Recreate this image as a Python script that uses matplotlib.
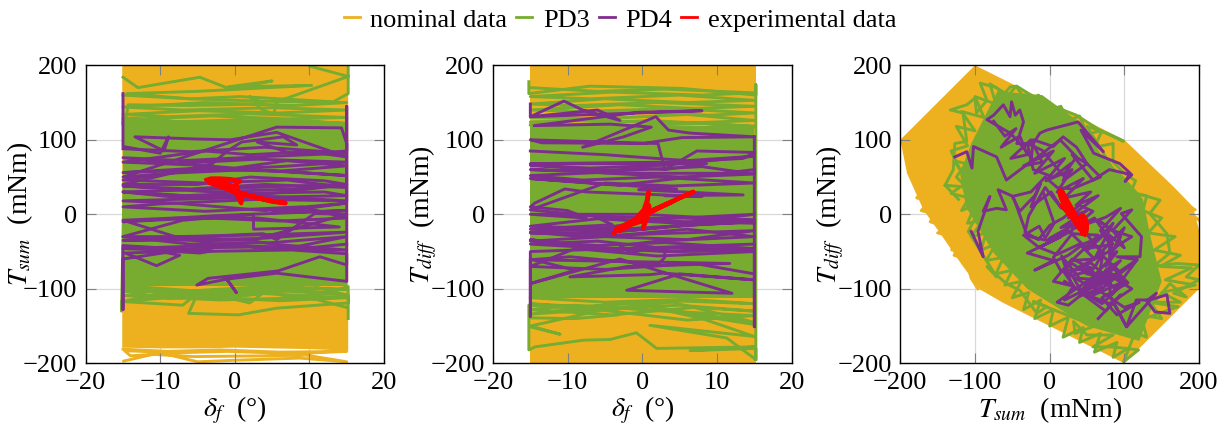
"""Operating envelopes of nominal, PD3, PD4 and experimental trajectories."""

import matplotlib

matplotlib.use("Agg")
import matplotlib.pyplot as plt
from matplotlib.lines import Line2D

YELLOW = "#EDB120"
GREEN = "#77AC30"
PURPLE = "#7E2F8E"
RED = "#FF0000"

# nominal data: covered area, then the loose traces outside of it
nom_sum_edge_delta = [-15.1, 15.2, 15.2, 10.0, 5.0, 0.0, -5.0, -10.0, -15.1]
nom_sum_edge_tsum = [210, 210, -183, -181, -180, -179, -180, -180, -179]
nom_sum_delta = [-15.0, -9.0, -2.0, 6.0, 15.0, 8.0, -1.0, -8.0, -14.8, -14.0, -9.5, -5.0, -0.2, 8.7,
                 15.0, 9.5, 4.0, -5.5, -11.0, -14.9]
nom_sum_tsum = [-181, -184, -182, -185, -184, -187, -184, -186, -183, -190, -187, -198, -196, -193,
                -198, -189, -190, -191, -188, -197]

nom_diff_edge_delta = [-15.1, 15.2, 15.2, -15.1]
nom_diff_edge_tdiff = [210, 210, -210, -210]

nom_xy_edge_tsum = [-200, -100, 100, 166, 192, 200, 200, 100, -62, -93, -116, -147, -169, -191]
nom_xy_edge_tdiff = [100, 200, 100, 37, 10, -21, -100, -200, -119, -101, -70, -25, 6, 55]
nom_xy_tsum = [-200, -188, -192, -180, -187, -172, -180, -165, -178, -160, -172, -152, -160, -136,
               -150, -128, -131, -118, -128, -112, -105, -96]
nom_xy_tdiff = [98, 92, 78, 70, 60, 55, 44, 36, 22, 18, 5, 0, -10, -18, -25, -30, -48, -42, -55, -60,
                -86, -100]
nom_xy_right_tsum = [150, 182, 168, 195, 176, 200]
nom_xy_right_tdiff = [45, 14, 22, 6, 12, -8]

# PD3: densely covered band, then the traces around it
pd3_sum_band_delta = [-15.0, 15.0, 15.0, -15.0]
pd3_sum_band_tsum = [120, 120, -96, -96]
pd3_sum_delta = [-15.0, -13.0, -4.7, -0.6, 5.0, -1.0, 10.3, -5.0, -14.5, -6.0, 0.7, 13.2, 15.2,
                 15.2, 10.0, 15.2, 5.6, 5.2, 3.4, 2.0, 4.0, -6.0, -14.3, -14.7, -15.2, -15.2, -7.0, -5.0,
                 -6.2, 0.5, 5.6, 15.2, 15.2, 12.3, 8.0, 4.0, 2.0, -3.0, -15.0, -9.0, -1.0, 5.0,
                 11.0, 15.2, 15.2]
pd3_sum_tsum = [184, 170, 184, 168, 179, 171, 173, 165, 162, 155, 158, 151, 162, 210, 199, 185, 151,
                134, 142, 158, 148, 146, 147, 122, -130, -117, -122, -106, -133, -135, -126, -119,
                -97, -105, -112, -104, -119, -107, -117, -104, -112, -105, -98, -109, -140]

pd3_top_delta = [-15, -6, 3, 15, 8, -4, -15, -7, 5, 15, 6, -5, -15, -9, 2, 15, 7, -3, -15, -8, 4, 15, 9,
                 -2, -15, -6, 6, 15, 5, -7, -15, -10, 1, 15, 8, -4, -15]
pd3_sum_top = [160, 155, 152, 150, 146, 150, 144, 140, 143, 140, 136, 139, 134, 131, 135, 130, 128, 132,
               127, 124, 128, 122, 125, 121, 129, 123, 127, 118, 122, 119, 124, 120, 125, 116, 120,
               118, 122]
pd3_diff_top = [170, 165, 168, 163, 160, 164, 158, 155, 160, 153, 150, 155, 148, 146, 150, 145, 142, 147,
                140, 138, 142, 136, 133, 138, 130, 128, 134, 126, 122, 126, 124, 120, 126, 118, 122,
                118, 120]
pd3_bottom_delta = [-15, -5, 6, 15, 4, -8, -15, -6, 5, 15, 7, -4, -15, -9, 3, 15, 6, -6, -15, -2, 10, 15]
pd3_sum_bottom = [-96, -103, -98, -101, -97, -104, -100, -109, -102, -108, -100, -106, -103, -113, -106,
                  -112, -116, -110, -109, -115, -112, -125]
pd3_diff_bottom = [-112, -118, -114, -120, -116, -124, -120, -128, -122, -130, -125, -135, -128, -122,
                   -130, -136, -142, -128, -134, -118, -140, -148]

pd3_diff_band_delta = [-15.0, 15.0, 15.0, -15.0]
pd3_diff_band_tdiff = [118, 118, -112, -112]
pd3_diff_delta = [-15.2, -15.2, -7.0, 5.3, 15.2, 15.2, 15.2, 11.3, 1.0, 15.0, 8.0, 0.0, 6.0, 15.0, 4.0,
                  -6.0, -15.2, -15.2, -14.4, -7.9, -4.3, -0.8, 1.9, 15.0, 6.4, 15.2, 15.2]
pd3_diff_tdiff = [178, 162, 172, 169, 160, 174, -195, -166, -149, -164, -140, -122, -132, -145, -118,
                  -128, -122, -182, -178, -169, -168, -159, -180, -178, -183, -180, -195]
pd3_diff_low_delta = [-15.0, -11.0, -15.0, -3.4, -3.2, -9.0, -15.0]
pd3_diff_low_tdiff = [-151, -161, -150, -124, -135, -140, -139]

pd3_xy_band_tsum = [-105, -70, -10, 45, 70, 100, 125, 135, 150, 120, 50, -30, -75, -112, -120]
pd3_xy_band_tdiff = [95, 165, 160, 120, 78, 50, 20, -30, -90, -170, -150, -100, -52, 10, 55]
pd3_xy_tsum = [-140, -129, -127, -111, -116, -133, -111, -100, -98, -84, -93, -71, -62, -53, -44, -22,
               5, 36, 67, 99, 76, 50, 84, 117, 148, 134, 157, 161, 139, 170, 200, 183, 200, 166, 183,
               161, 139, 172, 121, 99, 119, 85, 58, 85, 50, 32, 34, 60, 10, -22, -4, -17, -40, -58,
               -84, -71, -109, -96, -116, -140, -122]
pd3_xy_tdiff = [39, 60, 95, 98, 136, 140, 147, 156, 136, 153, 176, 170, 160, 171, 172, 158, 145, 133,
                113, 98, 109, 118, 62, 28, 19, 1, -26, -52, -70, -66, -68, -84, -88, -106, -111, -93,
                -119, -124, -142, -198, -182, -178, -178, -162, -162, -144, -160, -150, -130, -117, -124,
                -133, -102, -93, -70, -84, -23, 2, 37, 39, 20]
pd3_xy_left_tsum = [-120, -128, -112, -125, -115, -132, -108, -118, -100, -110, -90, -105, -85, -92, -72,
                    -85, -62, -72, -50, -60, -38, -50, -28, -35, -12, -20, 5, 0, 25, 18, 45, 40, 68, 60,
                    90, 85, 105]
pd3_xy_left_tdiff = [60, 72, 68, 50, 40, 28, 22, 5, 12, -12, -8, -30, -25, -48, -40, -62, -58, -80, -75,
                     -95, -90, -112, -105, -128, -115, -140, -128, -150, -138, -165, -152, -172, -160,
                     -185, -172, -192, -180]
pd3_xy_top_tsum = [-120, -132, -110, -125, -100, -118, -88, -100, -72, -80, -55, -45, -30, -15, 0, 15, 25,
                   40, 50, 70, 60, 85, 85, 100, 115, 108, 130, 125, 150, 132, 168, 140, 175, 148, 190,
                   155, 195, 150, 175, 135, 150, 122, 130, 105]
pd3_xy_top_tdiff = [60, 85, 92, 118, 112, 138, 130, 158, 148, 175, 160, 172, 150, 160, 140, 145, 125, 132,
                    108, 112, 90, 95, 70, 55, 45, 28, 25, 5, -5, -25, -30, -48, -55, -70, -72, -88, -95,
                    -105, -118, -118, -140, -135, -165, -155]

# PD4 trajectories
pd4_sum_delta = [-15.0, -15.0, -10.0, -8.9, -9.5, -13.4, -5.0, -0.6, 5.6, 15.0, 10.0, 2.0, -4.0, -15.0,
                 -5.0, 0.0, 7.0, 15.0, 6.0, -3.0, -15.0, 5.6, 14.3, 15.0, 15.0, 8.0, 3.0, 8.3, 6.5,
                 0.9, -1.0, -3.0, -15.0, -5.0, 2.0, 12.0, 15.0, 5.0, -5.0, -15.0, -7.0, 1.0, 12.0,
                 15.0, 4.0, -8.0, -15.0, -8.0, -2.0, 4.0, 15.0, 5.0, 15.0, -3.0, -15.0, -5.0, 3.0,
                 14.0, 2.5, 2.5, -7.0, -15.0, -5.0, 3.8, 5.6, 10.7, 15.0, 3.0, -7.0, -15.0, -5.0,
                 2.0, 5.0, 15.0, 5.0, 0.0, -6.0, -14.7, -10.5, -7.4, -11.0, -4.7, -3.0, -15.0,
                 -15.0, -15.0, -5.0, 2.0, 15.0, 15.0, 11.4, 5.8, -3.6, -5.1, -1.1, 0.2, -1.1, 5.6, 15.0,
                 15.0, 15.0, 15.0]
pd4_sum_tsum = [162, 91, 82, 104, 85, 104, 101, 100, 110, 77, 84, 80, 85, 70, 66, 62, 72, 65, 58, 60, 50,
                117, 116, 95, 85, 80, 97, 93, 104, 97, 85, 68, 40, 40, 50, 45, 40, 37, 33, 30, 25, 28,
                30, 25, 23, 20, 18, 15, 10, 5, 15, 2, 5, -2, -10, -5, -5, -17, -20, 0, -8, -30, -30,
                -26, -34, 1, 0, -33, -33, -35, -34, -35, -40, -48, -47, -40, -49, -52, -69, -55, -48,
                -52, -49, -42, -128, -60, -45, -44, -53, -68, -57, -76, -86, -95, -87, -105, -87, -79,
                -90, 145, 70, 20]
pd4_sum_dense_delta = [-15, -6, 4, 15, 5, -7, -15, -8, 3, 15, 6, -4, -15, -5, 6, 15, 2, -9, -15, -4, 7, 15,
                       4, -6, -15, -3, 8, 15, 5, -5, -15, -7, 1, 15, 3, -10, -15, -4, 9, 15, 6, -6, -15,
                       -8, 2, 15, 4, -4, -15, -6, 5, 15, 8, -3, -15, -5, 7, 15]
pd4_sum_dense = [88, 84, 90, 82, 78, 72, 76, 68, 74, 70, 64, 60, 56, 62, 58, 52, 60, 55, 46, 42, 46, 36, 40,
                 34, 38, 30, 34, 40, 28, 24, 30, 22, 26, 18, 20, 14, 10, 4, 10, -5, -9, -4, -8, -30, -28,
                 -24, -32, -36, -30, -40, -38, -30, -44, -42, -46, -50, -48, -40]

pd4_diff_delta = [-15.0, -15.0, -10.5, -8.0, -3.0, -6.0, -15.0, 8.0, -0.5, -14.5, -4.3, 1.2, -2.5, -8.0,
                  1.8, 3.5, 6.4, 15.0, 5.3, 0.1, -13.5, -15.0, 2.1, 3.0, 7.3, 15.0, 13.5, 4.0, -15.0,
                  8.6, 3.0, 0.0, -6.0, -15.0, -3.4, 15.0, 15.0, -3.2, -15.0, 4.6, -0.5, 13.5, 3.0, 8.0,
                  -7.5, -10.4, -14.4, -15.0, -10.0, -7.5, -15.0, 0.0, 15.0, 5.0, 15.0, -2.0, -7.0, -4.0, -15.0,
                  -2.0, 7.0, 15.0, 4.0, -5.0, -15.0, -3.0, 6.0, 15.0, 2.0, -3.0, -1.5, 1.5, -6.0, -15.0, -6.0, 3.0,
                  15.0, 3.0, 3.0, 2.0, -9.7, -15.0, 11.7, -2.0, -9.7, 1.0, 2.8, 15.0, 5.0, -2.1, 12.0,
                  -3.0, -15.0, -9.0, -15.0, -15.0, -15.0, 15.0, 15.0, 15.0]
pd4_diff_tdiff = [148, 131, 152, 140, 126, 140, 131, 139, 137, 119, 121, 117, 104, 90, 131, 113, 109, 104,
                  103, 95, 96, 100, 95, 60, 85, 83, 75, 70, 68, 68, 60, 62, 58, 60, 55, 55, 60, 39, 48,
                  34, 33, 26, 25, 24, 30, 34, 15, 10, 5, -5, 0, 0, -8, -4, -12, -8, 0, -14, -20, -22, -14,
                  -10, -16, -25, -25, -28, -20, -30, -36, -42, -52, -44, -36, -40, -45, -50, -48, -45, -58,
                  -68, -57, -61, -66, -70, -84, -81, -79, -88, -80, -102, -106, -60, -93, -75, -60, -137,
                  -50, -40, -151, 104]
pd4_diff_dense_delta = [-15, -5, 6, 15, 3, -7, -15, -4, 8, 15, 5, -6, -15, -8, 2, 15, 4, -5, -15, -7, 3, 15,
                        5, -6, -15, -3, 7, 15, 4, -5, -15, -8, 2, 15, 6, -5, -15, -6, 3, 15, 5, -8, -15,
                        -3, 6, 15, 2, -9, -15, -5, 7, 15]
pd4_diff_dense = [85, 80, 72, 78, 66, 62, 66, 58, 64, 54, 50, 56, 52, 46, 50, 42, 38, 42, 6, -2, -6, 0, -12,
                  -6, -16, -20, -14, -8, -4, -18, -24, -30, -26, -22, -34, -30, -36, -42, -38, -46, -50,
                  -44, -34, -48, -44, -50, -56, -46, -70, -74, -66, -80]

pd4_xy_tsum = [-127, -111, -104, -102, -71, -58, -22, -44, -53, -84, -75, -62, -53, -51, -46, -40, -35, -44,
               -22, -13, -4, 38, 72, 42, 59, 94, 108, 101, 110, 80, 58, 30, 50, 36, 18, 5, -22, -25, 14,
               36, 18, -10, -30, -22, 5, 28, 18, 50, 68, 30, 10, -6, -25, -50, -40, -20, -12, -25, 2,
               16, -6, -28, -33, -15, 0, 18, 40, 58, 30, 75, 95, 68, 85, 110, 85, 65, 95, 88, 72, 40, 60,
               85, 50, 25, -4, -35, -15, 10, 40, 60, 30, 65, 30, 5, 15, 60, 72, 65, 40, 16, 30, 5, 30,
               55, 70, 40, 62, 35, 10, 25, 65, 90, 55, 30, 45, 65, 117, 90, 121, 123, 96, 110, 85, 100,
               80, 81, 103, 116, 134, 157, 161, 141, 130, 143, 103, 81, 117, 80, 50, 30, 18, 32, 20,
               50, 85, 100, 70, 20]
pd4_xy_tdiff = [77, 84, 62, 91, 77, 46, 73, 100, 109, 127, 133, 147, 131, 151, 133, 140, 124, 95, 95, 109,
                113, 124, 84, 113, 82, 68, 55, 44, 53, 60, 46, 80, 68, 90, 104, 91, 100, 70, 100, 77, 52,
                86, 95, 60, 50, 68, 45, 68, 50, 34, 36, 50, 30, 24, 4, 25, 42, 10, 30, 8, 36, -2, -24,
                -34, -15, -5, 12, 4, -20, -4, 8, -22, -46, -30, -22, -8, -30, -45, -54, -15, -5, -40, -46,
                -22, -35, -28, -44, -54, -40, -60, -62, -28, -26, -58, -76, -72, -50, -88, -86, -56, -96,
                -90, -60, -72, -98, -110, -82, -100, -118, -122, -90, -100, -76, -82, -108, -104, -61,
                -57, -57, -30, 1, 6, -21, -45, -28, -110, -151, -115, -115, -108, -133, -131, -116, -106,
                -151, -110, -61, -86, -80, -66, -76, -96, -115, -100, -70, -92, -120, -90]
pd4_xy_low_tsum = [-105, -89, -96, -80, -89, -71, -58, -69, -49, -31, -14, -6, 6, -8]
pd4_xy_low_tdiff = [-23, -57, -23, 24, 4, 8, 6, 33, 24, -26, -16, -32, -12, 28]
pd4_xy_mid_tsum = [-75, -60, -45, -65, -40, -30, -52, -25, -10, -35, 5, -20, 20, -5, 30, 10, 45, 20, 55, 35,
                   65, 25, 50, 15, 40, 0, 30, -15, 15, -30, 5, -20, 25, 45, 70, 50, 85, 60, 100, 75, 90, 60,
                   40, 70, 95, 50, 25, 55, 80, 40, 65, 95, 75, 100, 55, 80, 110, 85, 60, 100, 120, 90, 70,
                   105, 85, 60, 40, 75, 95, 65]
pd4_xy_mid_tdiff = [125, 105, 115, 90, 105, 80, 75, 100, 70, 65, 85, 55, 75, 45, 60, 30, 48, 22, 30, 12, 25,
                    -5, 5, -18, -10, -32, -22, -45, -30, -52, -62, -75, -55, -40, -30, -48, -12, -60, -18,
                    -70, -50, -82, -70, -55, -78, -95, -80, -65, -88, -105, -95, -62, -75, -90, -110, -120,
                    -100, -85, -98, -125, -118, -135, -112, -92, -72, -84, -104, -130, -108, -140]

# experimental trajectory, same samples in all three panels
exp_delta = [-3.8, -3.2, -2.0, -0.5, 0.7, 0.1, 0.3, 0.85, 0.6, 0.2, -1.0, -2.5, -3.5, -2.0, -0.5, 1.0, 2.5,
             4.0, 2.8, 1.5, 3.5, 5.0, 6.8, 5.0, 3.0, 1.0, 0.9, 0.5, 0.0, -1.5, -3.0]
exp_tsum = [46, 48, 48, 47, 44, 44, 38, 15, 20, 28, 34, 39, 43, 38, 33, 27, 24, 20, 22, 26, 21, 18, 15, 17,
            22, 28, 18, 30, 37, 42, 46]
exp_tdiff = [-25, -20, -14, -8, -3, -19, -10, 30, 18, 6, -7, -15, -20, -13, -5, 2, 10, 17, 12, 6, 15, 22,
             30, 22, 12, 3, 12, -2, -9, -14, -22]

LINE_W = 2.1
FONT = 19
LABEL_FONT = 20


def draw_panel(ax, edge, extra, band, pd3, pd4, exp, exp_w=3.2):
    """Draw one panel from its nominal, PD3, PD4 and experimental data."""
    ax.fill(edge[0], edge[1], color=YELLOW, lw=0, zorder=1)
    for tr_x, tr_y in extra:
        ax.plot(tr_x, tr_y, color=YELLOW, lw=LINE_W, zorder=1.1)
    ax.fill(band[0], band[1], color=GREEN, lw=0, zorder=2)
    for tr_x, tr_y in pd3:
        ax.plot(tr_x, tr_y, color=GREEN, lw=LINE_W, zorder=2.1)
    for tr_x, tr_y in pd4:
        ax.plot(tr_x, tr_y, color=PURPLE, lw=LINE_W, zorder=3)
    ax.plot(exp[0], exp[1], color=RED, lw=exp_w, zorder=4)


def style_axes(ax, xticks, xlabel, ylabel, ylabel_x):
    ax.set_xlim(xticks[0], xticks[-1])
    ax.set_ylim(-200, 200)
    ax.set_xticks(xticks)
    ax.set_yticks([-200, -100, 0, 100, 200])
    ax.set_axisbelow(False)
    for val in xticks[1:-1]:
        ax.axvline(val, color="#d9d9d9", lw=0.9, zorder=0.5)
    for val in [-100, 0, 100]:
        ax.axhline(val, color="#d9d9d9", lw=0.9, zorder=0.5)
    ax.tick_params(direction="in", length=7.5, width=0.8, color="#808080", top=True, right=True,
                   labelsize=FONT, pad=6)
    ax.set_xlabel(xlabel, fontsize=LABEL_FONT, va="center")
    ax.set_ylabel(ylabel, fontsize=LABEL_FONT, va="center")
    ax.xaxis.set_label_coords(0.5, -0.157)
    ax.yaxis.set_label_coords(ylabel_x, 0.5)
    for spine in ax.spines.values():
        spine.set_linewidth(1.0)
        spine.set_color("black")
        spine.set_zorder(6)


plt.rcParams["font.family"] = ["Liberation Serif", "DejaVu Serif"]
plt.rcParams["mathtext.fontset"] = "stix"

fig = plt.figure(figsize=(12.3, 4.3), dpi=100)
W, H = 1230.0, 430.0
ax_sum = fig.add_axes([85.7 / W, 1 - 363.3 / H, 298.3 / W, 298 / H])
ax_diff = fig.add_axes([493.0 / W, 1 - 363.3 / H, 298.7 / W, 298 / H])
ax_xy = fig.add_axes([900.3 / W, 1 - 363.3 / H, 298.7 / W, 298 / H])

draw_panel(ax_sum, (nom_sum_edge_delta, nom_sum_edge_tsum), [(nom_sum_delta, nom_sum_tsum)],
           (pd3_sum_band_delta, pd3_sum_band_tsum),
           [(pd3_top_delta, pd3_sum_top), (pd3_bottom_delta, pd3_sum_bottom), (pd3_sum_delta, pd3_sum_tsum)],
           [(pd4_sum_delta, pd4_sum_tsum), (pd4_sum_dense_delta, pd4_sum_dense)], (exp_delta, exp_tsum))
draw_panel(ax_diff, (nom_diff_edge_delta, nom_diff_edge_tdiff), [],
           (pd3_diff_band_delta, pd3_diff_band_tdiff),
           [(pd3_top_delta, pd3_diff_top), (pd3_bottom_delta, pd3_diff_bottom), (pd3_diff_delta, pd3_diff_tdiff),
            (pd3_diff_low_delta, pd3_diff_low_tdiff)],
           [(pd4_diff_delta, pd4_diff_tdiff), (pd4_diff_dense_delta, pd4_diff_dense)], (exp_delta, exp_tdiff))
draw_panel(ax_xy, (nom_xy_edge_tsum, nom_xy_edge_tdiff),
           [(nom_xy_tsum, nom_xy_tdiff), (nom_xy_right_tsum, nom_xy_right_tdiff)],
           (pd3_xy_band_tsum, pd3_xy_band_tdiff),
           [(pd3_xy_tsum, pd3_xy_tdiff), (pd3_xy_left_tsum, pd3_xy_left_tdiff), (pd3_xy_top_tsum, pd3_xy_top_tdiff)],
           [(pd4_xy_tsum, pd4_xy_tdiff), (pd4_xy_low_tsum, pd4_xy_low_tdiff), (pd4_xy_mid_tsum, pd4_xy_mid_tdiff)],
           (exp_tsum, exp_tdiff), exp_w=5.0)

delta_ticks = [-20, -10, 0, 10, 20]
torque_ticks = [-200, -100, 0, 100, 200]
style_axes(ax_sum, delta_ticks, r"$\delta_f$  (°)", r"$T_{sum}$  (mNm)", -0.22)
style_axes(ax_diff, delta_ticks, r"$\delta_f$  (°)", r"$T_{diff}$  (mNm)", -0.234)
style_axes(ax_xy, torque_ticks, r"$T_{sum}$  (mNm)", r"$T_{diff}$  (mNm)", -0.235)

handles = [Line2D([], [], color=col, lw=2.0) for col in (YELLOW, GREEN, PURPLE, RED)]
fig.legend(handles, ["nominal data", "PD3", "PD4", "experimental data"], loc="center",
           bbox_to_anchor=(620 / W, 1 - 20 / H), ncol=4, frameon=False, fontsize=19,
           handlelength=0.6, handletextpad=0.4, columnspacing=0.35, borderpad=0)

fig.savefig("out.png", dpi=100)
plt.close(fig)
